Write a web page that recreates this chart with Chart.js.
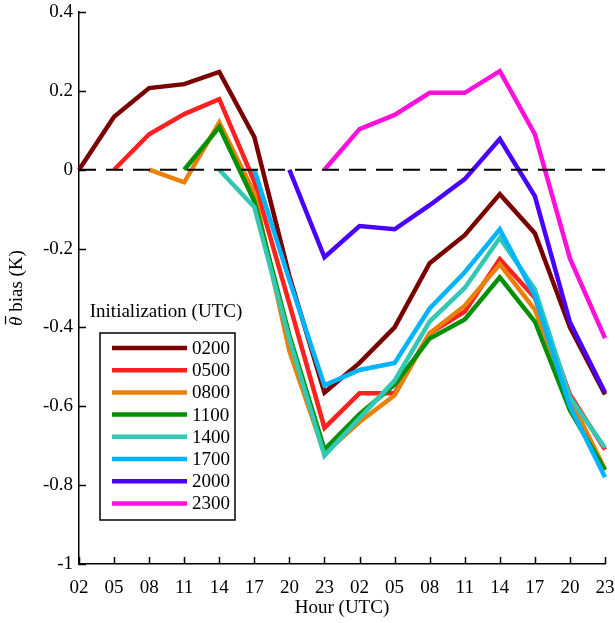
<!DOCTYPE html>
<html>
<head>
<meta charset="utf-8">
<script src="https://cdn.jsdelivr.net/npm/chart.js@4"></script>
<style>
  html, body { margin: 0; padding: 0; background: #fff; }
  #wrap { width: 615px; height: 623px; }
</style>
</head>
<body>
<div id="wrap"><canvas id="myChart"></canvas></div>
<script>
// forecast hour labels (two days)
var hours = ["02", "05", "08", "11", "14", "17", "20", "23", "02", "05", "08", "11", "14", "17", "20", "23"];
var yTicks = [0.4, 0.2, 0, -0.2, -0.4, -0.6, -0.8, -1];

// bias per initialization time (K)
var init0200 = [0, 0.134, 0.207, 0.217, 0.248, 0.083, -0.27, -0.565, -0.49, -0.40, -0.237, -0.166, -0.062, -0.161, -0.40, -0.57];
var init0500 = [null, 0, 0.09, 0.141, 0.179, -0.03, -0.34, -0.655, -0.567, -0.567, -0.415, -0.36, -0.227, -0.325, -0.57, -0.71];
var init0800 = [null, null, 0, -0.032, 0.12, -0.06, -0.46, -0.72, -0.64, -0.572, -0.415, -0.345, -0.24, -0.355, -0.58, -0.76];
var init1100 = [null, null, null, 0, 0.108, -0.08, -0.42, -0.71, -0.62, -0.545, -0.428, -0.38, -0.273, -0.385, -0.61, -0.762];
var init1400 = [null, null, null, null, 0, -0.095, -0.43, -0.725, -0.63, -0.535, -0.385, -0.30, -0.173, -0.303, -0.577, -0.705];
var init1700 = [null, null, null, null, null, 0, -0.28, -0.547, -0.508, -0.49, -0.352, -0.26, -0.151, -0.32, -0.60, -0.78];
var init2000 = [null, null, null, null, null, null, 0, -0.222, -0.143, -0.151, -0.09, -0.024, 0.078, -0.067, -0.387, -0.565];
var init2300 = [null, null, null, null, null, null, null, 0, 0.103, 0.139, 0.195, 0.195, 0.25, 0.09, -0.225, -0.427];

var names = ["0200", "0500", "0800", "1100", "1400", "1700", "2000", "2300"];
var series = [init0200, init0500, init0800, init1100, init1400, init1700, init2000, init2300];
var colors = ['#7a0000', '#ff2020', '#e8800a', '#009100', '#33c8b4', '#00b4ff', '#4a00ff', '#ff10dc'];

var serif = "'Liberation Serif', 'DejaVu Serif', serif";
Chart.defaults.font.family = serif;
Chart.defaults.color = '#000';

var datasets = series.map(function (vals, i) {
  return {
    label: names[i],
    data: vals,
    borderColor: colors[i],
    backgroundColor: colors[i],
    borderWidth: 4.5,
    pointRadius: 0,
    fill: false,
    tension: 0,
    order: -i // later initializations on top
  };
});

// inward tick marks on both axes
var innerTicks = {
  id: 'innerTicks',
  afterDraw: function (chart) {
    var ctx = chart.ctx;
    var x = chart.scales.x, y = chart.scales.y;
    var area = chart.chartArea;
    ctx.save();
    ctx.strokeStyle = '#000';
    ctx.lineWidth = 1.5;
    ctx.beginPath();
    y.ticks.forEach(function (t, i) {
      var py = Math.round(y.getPixelForTick(i)) + 0.5;
      ctx.moveTo(area.left, py);
      ctx.lineTo(area.left + 7, py);
    });
    x.ticks.forEach(function (t, i) {
      var px = Math.round(x.getPixelForTick(i)) + 0.5;
      ctx.moveTo(px, area.bottom);
      ctx.lineTo(px, area.bottom - 7);
    });
    ctx.stroke();
    ctx.restore();
  }
};

// dashed zero reference line
var zeroLine = {
  id: 'zeroLine',
  afterDatasetsDraw: function (chart) {
    var ctx = chart.ctx;
    var area = chart.chartArea;
    var py = chart.scales.y.getPixelForValue(0);
    ctx.save();
    ctx.strokeStyle = '#000';
    ctx.lineWidth = 2;
    ctx.setLineDash([17, 10]);
    ctx.beginPath();
    ctx.moveTo(area.left, py);
    ctx.lineTo(area.right, py);
    ctx.stroke();
    ctx.restore();
  }
};

// rotated y title: italic theta with an overbar, then "bias (K)"
var yTitle = {
  id: 'yTitle',
  afterDraw: function (chart) {
    var ctx = chart.ctx;
    var area = chart.chartArea;
    var cy = (area.top + area.bottom) / 2;
    ctx.save();
    ctx.translate(22, cy);
    ctx.rotate(-Math.PI / 2);
    ctx.fillStyle = '#000';
    ctx.textBaseline = 'alphabetic';
    ctx.font = 'italic 19px ' + serif;
    var th = ctx.measureText('θ').width;
    ctx.font = '19px ' + serif;
    var rest = ' bias (K)';
    var rw = ctx.measureText(rest).width;
    var x0 = -(th + rw) / 2;
    ctx.font = 'italic 19px ' + serif;
    ctx.fillText('θ', x0, 0);
    ctx.strokeStyle = '#000';
    ctx.lineWidth = 1.2;
    ctx.beginPath();
    ctx.moveTo(x0 + 1.5, -16.5);
    ctx.lineTo(x0 + th + 0.5, -16.5);
    ctx.stroke();
    ctx.font = '19px ' + serif;
    ctx.fillText(rest, x0 + th, 0);
    ctx.restore();
  }
};

// boxed legend with a title above it
var boxLegend = {
  id: 'boxLegend',
  afterDraw: function (chart) {
    var ctx = chart.ctx;
    var bx = 100, by = 333, bw = 135, bh = 187;
    ctx.save();
    ctx.fillStyle = '#000';
    ctx.font = '19px ' + serif;
    ctx.textAlign = 'center';
    ctx.textBaseline = 'middle';
    ctx.fillText('Initialization (UTC)', 166, 312);
    ctx.fillStyle = '#fff';
    ctx.fillRect(bx, by, bw, bh);
    ctx.strokeStyle = '#000';
    ctx.lineWidth = 1.5;
    ctx.strokeRect(bx, by, bw, bh);
    ctx.textAlign = 'left';
    chart.data.datasets.forEach(function (ds, i) {
      var ry = 348 + i * 22.2;
      ctx.strokeStyle = ds.borderColor;
      ctx.lineWidth = 4.5;
      ctx.beginPath();
      ctx.moveTo(112, ry);
      ctx.lineTo(187, ry);
      ctx.stroke();
      ctx.fillStyle = '#000';
      ctx.fillText(ds.label, 192, ry + 1);
    });
    ctx.restore();
  }
};

var ctx = document.getElementById('myChart').getContext('2d');
var myChart = new Chart(ctx, {
  type: 'line',
  data: { labels: hours, datasets: datasets },
  options: {
    responsive: true,
    maintainAspectRatio: false,
    animation: false,
    layout: { padding: { top: 12, right: 10, left: 0, bottom: 0 } },
    plugins: { legend: { display: false }, tooltip: { enabled: false } },
    scales: {
      x: {
        offset: false,
        afterFit: function (scale) {
          scale.height = 59;
          scale.paddingLeft = 0;
          scale.paddingRight = 0;
        },
        grid: { display: false, drawTicks: false },
        border: { display: true, color: '#000', width: 1.5 },
        ticks: { font: { size: 19 }, padding: 13, maxRotation: 0, autoSkip: false },
        title: { display: true, text: 'Hour (UTC)', font: { size: 19 }, padding: { top: 0, bottom: 4 } }
      },
      y: {
        min: -1,
        max: 0.4,
        afterFit: function (scale) {
          scale.width = 79;
          scale.paddingTop = 0;
          scale.paddingBottom = 0;
        },
        afterBuildTicks: function (scale) {
          scale.ticks = yTicks.map(function (v) { return { value: v }; });
        },
        grid: { display: false, drawTicks: false },
        border: { display: true, color: '#000', width: 1.5 },
        ticks: {
          font: { size: 19 },
          padding: 6,
          callback: function (v) { return String(Math.round(v * 10) / 10); }
        }
      }
    }
  },
  plugins: [zeroLine, innerTicks, yTitle, boxLegend]
});
</script>
</body>
</html>
